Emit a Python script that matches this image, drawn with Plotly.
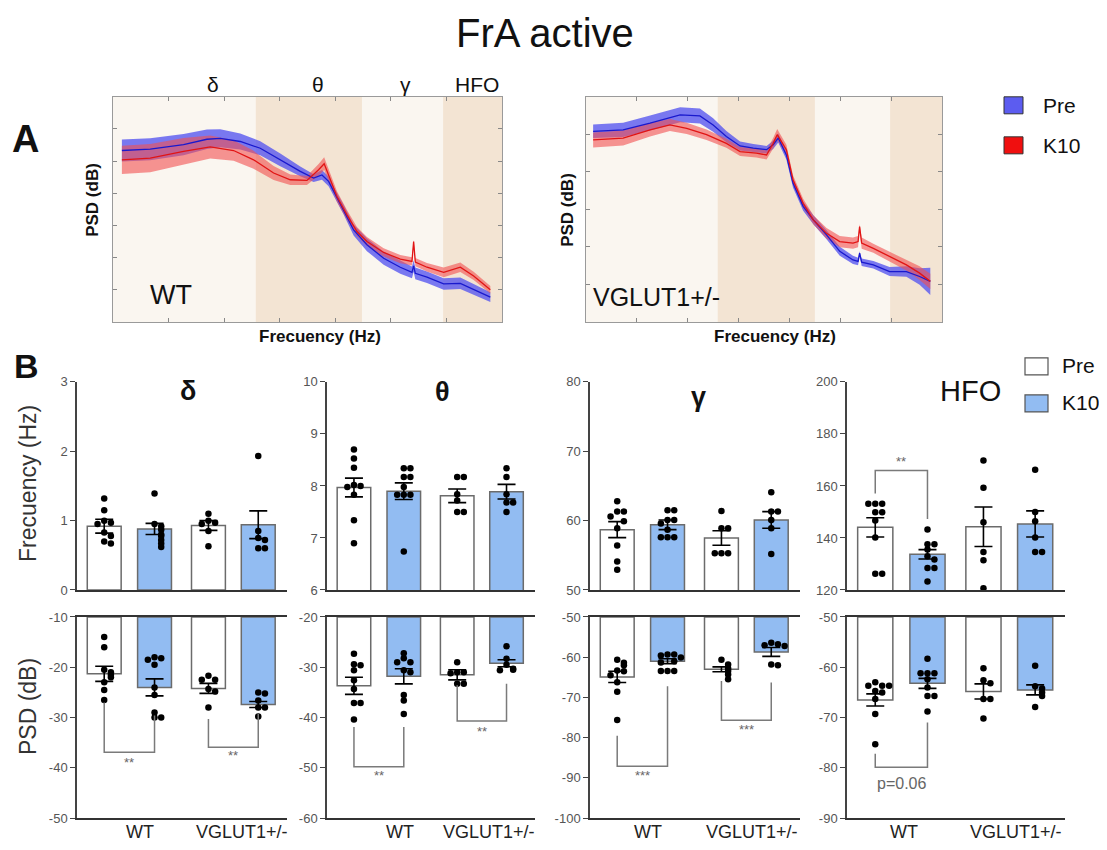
import plotly.graph_objects as go

# screen mapping measured from earlier renders: screen_x = 8 + fig_x,
# screen_y = SY * (TY + fig_y)
OFFX, TY, SY = 8, 15.5, 0.982
W, H = 1099, 850
FONT = "Liberation Sans, Arial, sans-serif"

# ---------------- Panel A: spectra (arbitrary units, no tick labels) ----------------
wt_pre_x = [0.16, 0.67, 1.27, 1.69, 1.93, 2.29, 2.65, 3.01, 3.37, 3.61, 3.76, 3.88, 3.97, 4.15, 4.33, 4.57, 4.87, 5.17, 5.38, 5.41, 5.44, 5.65, 5.95, 6.25, 6.49, 6.79]
wt_pre_y = [5.33, 5.37, 5.51, 5.68, 5.71, 5.61, 5.40, 5.04, 4.68, 4.47, 4.57, 4.37, 4.06, 3.49, 2.86, 2.40, 1.98, 1.70, 1.54, 1.74, 1.51, 1.39, 1.18, 1.20, 1.00, 0.77]
wt_pre_err = [0.34, 0.34, 0.33, 0.30, 0.28, 0.25, 0.22, 0.20, 0.15, 0.12, 0.15, 0.15, 0.14, 0.15, 0.17, 0.20, 0.20, 0.20, 0.18, 0.18, 0.18, 0.18, 0.18, 0.18, 0.17, 0.15]

wt_k10_x = [0.16, 0.67, 1.27, 1.75, 2.17, 2.53, 2.89, 3.19, 3.49, 3.70, 3.80, 3.91, 4.03, 4.21, 4.39, 4.57, 4.87, 5.17, 5.38, 5.41, 5.44, 5.65, 5.95, 6.25, 6.49, 6.79]
wt_k10_y = [5.04, 5.09, 5.30, 5.44, 5.33, 5.04, 4.63, 4.42, 4.40, 4.73, 4.92, 4.42, 3.90, 3.33, 2.81, 2.50, 2.16, 1.95, 1.88, 2.50, 1.86, 1.70, 1.54, 1.70, 1.43, 1.00]
wt_k10_err = [0.44, 0.44, 0.42, 0.36, 0.32, 0.28, 0.22, 0.16, 0.14, 0.18, 0.20, 0.18, 0.16, 0.15, 0.14, 0.14, 0.13, 0.13, 0.13, 0.05, 0.13, 0.13, 0.15, 0.15, 0.13, 0.12]

vg_pre_x = [0.14, 0.73, 1.26, 1.85, 2.24, 2.50, 2.76, 3.03, 3.29, 3.55, 3.68, 3.78, 3.94, 4.07, 4.27, 4.47, 4.73, 4.99, 5.25, 5.35, 5.38, 5.42, 5.65, 5.97, 6.30, 6.56, 6.77]
vg_pre_y = [5.08, 5.12, 5.30, 5.52, 5.49, 5.25, 4.94, 4.69, 4.63, 4.59, 4.72, 4.90, 4.45, 3.70, 3.08, 2.72, 2.32, 1.88, 1.65, 1.61, 1.83, 1.59, 1.52, 1.34, 1.34, 1.21, 1.08]
vg_pre_err = [0.18, 0.19, 0.20, 0.20, 0.20, 0.18, 0.15, 0.12, 0.11, 0.10, 0.11, 0.12, 0.12, 0.12, 0.12, 0.12, 0.12, 0.12, 0.11, 0.10, 0.05, 0.10, 0.10, 0.12, 0.14, 0.22, 0.36]

vg_k10_x = [0.14, 0.73, 1.26, 1.65, 1.98, 2.37, 2.76, 3.03, 3.35, 3.55, 3.68, 3.76, 3.94, 4.07, 4.27, 4.47, 4.73, 4.99, 5.25, 5.35, 5.38, 5.42, 5.65, 5.97, 6.30, 6.56, 6.77]
vg_k10_y = [4.85, 4.90, 5.12, 5.25, 5.16, 4.99, 4.76, 4.54, 4.50, 4.45, 4.76, 4.99, 4.59, 3.79, 3.16, 2.72, 2.36, 2.14, 2.10, 2.14, 2.54, 2.10, 1.96, 1.74, 1.52, 1.30, 1.08]
vg_k10_err = [0.20, 0.20, 0.18, 0.16, 0.15, 0.14, 0.12, 0.12, 0.12, 0.12, 0.14, 0.15, 0.13, 0.12, 0.12, 0.12, 0.14, 0.15, 0.15, 0.15, 0.06, 0.15, 0.12, 0.13, 0.15, 0.18, 0.20]

wt_bands = [(2.57, 4.48), (5.94, 7.0)]
vg_bands = [(2.59, 4.50), (5.98, 7.0)]
band_names = ["δ", "θ", "γ", "HFO"]

# ---------------- Panel B: bar data ----------------
groups = ["WT Pre", "WT K10", "VGLUT1+/- Pre", "VGLUT1+/- K10"]
group_labels = ["WT", "VGLUT1+/-"]

delta_freq_mean = [0.92, 0.88, 0.93, 0.94]
delta_freq_sem = [0.10, 0.08, 0.07, 0.20]
delta_freq_pts = [[1.32, 1.15, 1.00, 0.97, 0.95, 0.83, 0.78, 0.70, 0.67],
                  [1.39, 0.95, 0.92, 0.87, 0.80, 0.78, 0.72, 0.67, 0.62],
                  [1.10, 1.00, 0.97, 0.95, 0.85, 0.63],
                  [1.93, 0.85, 0.75, 0.72, 0.60, 0.60]]
delta_psd_mean = [-21.3, -24.0, -24.2, -27.4]
delta_psd_sem = [1.5, 1.7, 1.0, 0.6]
delta_psd_pts = [[-14.0, -16.0, -20.5, -21.0, -21.5, -22.0, -23.0, -24.5, -26.5],
                 [-18.0, -18.2, -18.5, -19.5, -24.0, -25.5, -29.0, -30.0, -30.0],
                 [-21.7, -22.5, -22.5, -24.3, -24.8, -28.0],
                 [-25.0, -25.2, -26.6, -28.0, -28.0, -29.8]]

theta_freq_mean = [7.97, 7.90, 7.81, 7.89]
theta_freq_sem = [0.18, 0.16, 0.13, 0.14]
theta_freq_pts = [[8.70, 8.53, 8.35, 8.02, 8.00, 7.98, 7.83, 7.34, 6.90],
                  [8.34, 8.34, 8.17, 8.17, 7.98, 7.83, 7.83, 7.83, 6.74],
                  [8.17, 8.17, 7.84, 7.72, 7.50, 7.50],
                  [8.34, 8.17, 7.84, 7.68, 7.68, 7.50]]
theta_psd_mean = [-33.7, -31.8, -31.5, -29.2]
theta_psd_sem = [1.7, 1.5, 1.0, 0.7]
theta_psd_pts = [[-27.3, -29.4, -29.6, -30.6, -32.6, -34.3, -37.1, -37.1, -40.4],
                 [-27.2, -28.2, -29.0, -29.0, -30.6, -31.0, -35.5, -36.6, -39.3],
                 [-29.0, -31.0, -31.0, -31.2, -33.3, -33.3],
                 [-25.8, -28.3, -29.5, -30.3, -30.5, -30.6]]

gamma_freq_mean = [58.7, 59.4, 57.5, 60.1]
gamma_freq_sem = [1.15, 0.7, 1.05, 1.2]
gamma_freq_pts = [[62.8, 61.3, 61.3, 60.6, 59.9, 58.9, 56.4, 54.1, 52.9],
                  [61.5, 61.5, 60.1, 60.1, 59.6, 58.7, 57.6, 57.6, 57.6],
                  [61.4, 58.9, 58.9, 55.3, 55.3, 55.3],
                  [64.1, 61.3, 61.3, 60.1, 58.9, 55.2]]
gamma_psd_mean = [-64.9, -61.0, -63.0, -58.7]
gamma_psd_sem = [1.4, 0.6, 0.6, 1.1]
gamma_psd_pts = [[-60.6, -61.4, -62.0, -63.3, -63.5, -64.5, -66.2, -68.6, -75.6],
                 [-59.3, -59.3, -59.6, -60.1, -61.0, -61.3, -63.4, -63.4, -63.4],
                 [-60.6, -61.8, -62.8, -63.4, -64.3, -65.5],
                 [-56.4, -56.8, -57.0, -57.2, -61.8, -62.0]]

hfo_freq_mean = [144.1, 133.7, 144.3, 145.4]
hfo_freq_sem = [3.7, 1.8, 7.6, 5.0]
hfo_freq_pts = [[153.2, 153.2, 153.2, 149.9, 149.9, 146.7, 140.2, 126.2, 126.2],
                [143.3, 137.6, 137.6, 135.6, 133.0, 131.7, 128.5, 128.5, 123.3],
                [169.8, 159.3, 146.0, 134.6, 131.4, 120.7],
                [166.2, 150.0, 146.4, 140.2, 134.6, 134.6]]
hfo_psd_mean = [-66.5, -63.2, -64.8, -64.5]
hfo_psd_sem = [1.2, 1.0, 1.5, 1.0]
hfo_psd_pts = [[-63.0, -63.7, -63.7, -63.7, -64.7, -65.0, -66.3, -69.3, -75.3],
               [-58.3, -61.2, -61.2, -61.2, -62.4, -64.0, -65.7, -65.7, -68.8],
               [-60.2, -62.6, -63.2, -66.3, -66.3, -70.2],
               [-59.7, -63.8, -64.2, -65.0, -65.7, -67.9]]

freq_ranges = [(0, 3, 1), (6, 10, 1), (50, 80, 10), (120, 200, 20)]
psd_ranges = [(-50, -10, 10), (-60, -20, 10), (-100, -50, 10), (-90, -50, 10)]

# significance brackets: (panel, row, bar_a, bar_b, y_a, y_mid, y_b, label, label_y)
brackets = [
    (0, "psd", 0, 1, -27.0, -36.9, -29.6, "**", -38.9),
    (0, "psd", 2, 3, -30.3, -35.9, -29.3, "**", -37.6),
    (1, "psd", 0, 1, -41.9, -49.8, -41.9, "**", -51.6),
    (1, "psd", 2, 3, -33.6, -40.7, -33.3, "**", -42.7),
    (2, "psd", 0, 1, -79.5, -87.1, -67.2, "***", -89.4),
    (2, "psd", 2, 3, -65.9, -75.7, -66.3, "***", -77.9),
    (3, "freq", 0, 1, 157.1, 165.9, 147.3, "**", 169.4),
    (3, "psd", 0, 1, -77.2, -79.9, -71.0, "p=0.06", -83.2),
]

# ---------------- helpers (coordinates given in screen pixels) ----------------
def px(x):
    return (x - OFFX) / W

def py(y):
    return 1 - (y / SY - TY) / H

fig = go.Figure()
layout = dict(width=W, height=H, margin=dict(l=0, r=0, t=0, b=0),
              paper_bgcolor="white", plot_bgcolor="white", showlegend=False,
              font=dict(family=FONT, color="#222"))
shapes = []
annotations = []

def ann(text, x, y, size, bold=False, color="#111", angle=0, xanchor="center", yanchor="middle"):
    if bold:
        text = "<b>" + text + "</b>"
    annotations.append(dict(text=text, x=px(x), y=py(y), xref="paper", yref="paper",
                            showarrow=False, textangle=angle, xanchor=xanchor, yanchor=yanchor,
                            font=dict(size=size, color=color, family=FONT)))

# ---------------- Panel A ----------------
spec_panels = [
    dict(ax=1, dom=(113, 502), bands=wt_bands, yr=7,
         series=[(wt_pre_x, wt_pre_y, wt_pre_err), (wt_k10_x, wt_k10_y, wt_k10_err)]),
    dict(ax=2, dom=(586, 942), bands=vg_bands, yr=6,
         series=[(vg_pre_x, vg_pre_y, vg_pre_err), (vg_k10_x, vg_k10_y, vg_k10_err)]),
]
fills = ["rgba(85,85,240,0.78)", "rgba(242,80,80,0.60)"]
lines = ["rgb(25,25,205)", "rgb(225,20,20)"]
for p in spec_panels:
    i = p["ax"]
    xa, ya = ("x" if i == 1 else f"x{i}"), ("y" if i == 1 else f"y{i}")
    common = dict(showline=True, mirror="allticks", linecolor="#9a9a9a", linewidth=1,
                  ticks="inside", ticklen=4, tickcolor="#888", showticklabels=False,
                  showgrid=False, zeroline=False)
    layout["xaxis" if i == 1 else f"xaxis{i}"] = dict(domain=[px(p["dom"][0]), px(p["dom"][1])],
                                                      range=[0, 7], tickvals=list(range(1, 7)),
                                                      anchor=ya, **common)
    layout["yaxis" if i == 1 else f"yaxis{i}"] = dict(domain=[py(322), py(97)], range=[0, p["yr"]],
                                                      tickvals=list(range(1, p["yr"])),
                                                      anchor=xa, **common)
    shapes.append(dict(type="rect", xref=xa, yref=ya, x0=0, x1=7, y0=0, y1=p["yr"],
                       fillcolor="#faf6f0", line=dict(width=0), layer="below"))
    for b0, b1 in p["bands"]:
        shapes.append(dict(type="rect", xref=xa, yref=ya, x0=b0, x1=b1, y0=0, y1=p["yr"],
                           fillcolor="#f3e4d3", line=dict(width=0), layer="below"))
    for k, (sx, sy, se) in enumerate(p["series"]):
        up = [a + b for a, b in zip(sy, se)]
        lo = [a - b for a, b in zip(sy, se)]
        fig.add_trace(go.Scatter(x=sx + sx[::-1], y=up + lo[::-1], fill="toself",
                                 fillcolor=fills[k], line=dict(width=0), mode="lines",
                                 xaxis=xa, yaxis=ya, hoverinfo="skip"))
    for k, (sx, sy, se) in enumerate(p["series"]):
        fig.add_trace(go.Scatter(x=sx, y=sy, mode="lines", line=dict(color=lines[k], width=1.3),
                                 xaxis=xa, yaxis=ya))

# band names on top of WT spectrum
for name, xx in zip(band_names, [213, 318, 405, 477]):
    ann(name, xx, 85, 21, color="#111")
ann("PSD (dB)", 93, 200, 17, bold=True, angle=-90)
ann("PSD (dB)", 568, 210, 17, bold=True, angle=-90)
ann("Frecuency (Hz)", 320, 337, 17, bold=True)
ann("Frecuency (Hz)", 775, 337, 17, bold=True)
ann("WT", 171, 295, 27)
ann("VGLUT1+/-", 656, 297, 25)
# legend A
shapes.append(dict(type="rect", xref="paper", yref="paper", x0=px(1004), x1=px(1023), y0=py(114), y1=py(97),
                   fillcolor="rgb(92,92,240)", line=dict(color="#333", width=1)))
shapes.append(dict(type="rect", xref="paper", yref="paper", x0=px(1004), x1=px(1023), y0=py(154), y1=py(137),
                   fillcolor="rgb(240,15,15)", line=dict(color="#333", width=1)))
ann("Pre", 1041, 106, 21, xanchor="left")
ann("K10", 1041, 146, 21, xanchor="left")

# titles / panel letters
ann("FrA active", 545, 33, 40)
ann("A", 25, 139, 38, bold=True)
ann("B", 26, 366, 34, bold=True)

# ---------------- Panel B ----------------
pos = [0, 0.98, 2.03, 3.0]
xr = [-0.53, 3.56]
bar_w = 0.66
bar_colors = ["white", "rgb(146,188,242)", "white", "rgb(146,188,242)"]
cols = [(77, 287), (327, 535), (590, 800), (847, 1065)]
up_y = (382, 590)
lo_y = (617, 818)
col_data = [
    (delta_freq_mean, delta_freq_sem, delta_freq_pts, delta_psd_mean, delta_psd_sem, delta_psd_pts),
    (theta_freq_mean, theta_freq_sem, theta_freq_pts, theta_psd_mean, theta_psd_sem, theta_psd_pts),
    (gamma_freq_mean, gamma_freq_sem, gamma_freq_pts, gamma_psd_mean, gamma_psd_sem, gamma_psd_pts),
    (hfo_freq_mean, hfo_freq_sem, hfo_freq_pts, hfo_psd_mean, hfo_psd_sem, hfo_psd_pts),
]
jit = [0, 0.13, -0.13, 0.26, -0.26, 0.065, -0.065]

def jitter(vals, span):
    out = []
    for i, v in enumerate(vals):
        n = sum(1 for u in vals[:i] if abs(u - v) < 0.025 * span)
        out.append(jit[n % len(jit)])
    return out

axis_map = {}
for c, (x0, x1) in enumerate(cols):
    for r, (yy, rng) in enumerate([(up_y, freq_ranges[c]), (lo_y, psd_ranges[c])]):
        idx = 3 + 2 * c + r
        xa, ya = f"x{idx}", f"y{idx}"
        axis_map[(c, "freq" if r == 0 else "psd")] = (xa, ya)
        lo, hi, st = rng
        tv = list(range(lo, hi + 1, st))
        layout[f"xaxis{idx}"] = dict(domain=[px(x0), px(x1)], range=xr, anchor=ya,
                                     showline=True, mirror=(r == 1), linecolor="#333", linewidth=1.5,
                                     ticks="", showticklabels=False, showgrid=False, zeroline=False)
        layout[f"yaxis{idx}"] = dict(domain=[py(yy[1]), py(yy[0])], range=[lo, hi], anchor=xa,
                                     showline=True, linecolor="#444", linewidth=1.5,
                                     ticks="outside", ticklen=5, tickwidth=1.2, tickcolor="#444",
                                     tickvals=tv, ticktext=[str(t) for t in tv],
                                     tickfont=dict(size=13, color="#555", family=FONT),
                                     showgrid=False, zeroline=False)
        mean, sem, pts = col_data[c][3 * r: 3 * r + 3]
        if r == 0:
            fig.add_trace(go.Bar(x=pos, y=mean, width=bar_w, xaxis=xa, yaxis=ya,
                                 marker=dict(color=bar_colors, line=dict(color="#6b6b6b", width=1.5))))
        else:
            fig.add_trace(go.Bar(x=pos, y=[m - hi for m in mean], base=[hi] * 4, width=bar_w,
                                 xaxis=xa, yaxis=ya,
                                 marker=dict(color=bar_colors, line=dict(color="#6b6b6b", width=1.5))))
        dx, dy = [], []
        for b, vals in enumerate(pts):
            offs = jitter(vals, hi - lo)
            dx += [pos[b] + o for o in offs]
            dy += vals
        fig.add_trace(go.Scatter(x=dx, y=dy, mode="markers", xaxis=xa, yaxis=ya,
                                 marker=dict(color="black", size=6.5)))
        fig.add_trace(go.Scatter(x=pos, y=mean, mode="markers", xaxis=xa, yaxis=ya,
                                 marker=dict(color="rgba(0,0,0,0)", size=1),
                                 error_y=dict(type="data", array=sem, color="black",
                                              thickness=1.6, width=9)))

for (c, row, a, b, ya_, ym, yb, lab, ly) in brackets:
    xa, ya = axis_map[(c, row)]
    fig.add_trace(go.Scatter(x=[pos[a], pos[a], pos[b], pos[b]], y=[ya_, ym, ym, yb], mode="lines",
                             line=dict(color="#7a7a7a", width=1.5), xaxis=xa, yaxis=ya))
    annotations.append(dict(text=lab, x=(pos[a] + pos[b]) / 2, y=ly, xref=xa, yref=ya, showarrow=False,
                            font=dict(size=16 if lab.startswith("p") else 13, color="#666", family=FONT)))

# column titles
ann("δ", 188, 391, 27, bold=True)
ann("θ", 442, 392, 27, bold=True)
ann("γ", 698, 397, 27, bold=True)
ann("HFO", 970, 391, 29)
# y titles
ann("Frecuency (Hz)", 28, 484, 23, color="#333", angle=-90)
ann("PSD (dB)", 28, 707, 23, color="#333", angle=-90)
# group labels
for wt_x, vg_x in [(140, 242), (400, 489), (648, 752), (904, 1016)]:
    ann(group_labels[0], wt_x, 832, 18, color="#222")
    ann(group_labels[1], vg_x, 832, 18, color="#222")
# legend B
shapes.append(dict(type="rect", xref="paper", yref="paper", x0=px(1025), x1=px(1048), y0=py(375), y1=py(358),
                   fillcolor="white", line=dict(color="#555", width=1.2)))
shapes.append(dict(type="rect", xref="paper", yref="paper", x0=px(1025), x1=px(1048), y0=py(412), y1=py(395),
                   fillcolor="rgb(146,188,242)", line=dict(color="#555", width=1.2)))
ann("Pre", 1060, 366, 21, xanchor="left")
ann("K10", 1060, 403, 21, xanchor="left")

layout["shapes"] = shapes
layout["annotations"] = annotations
fig.update_layout(**layout)
fig.write_html("out.html")
